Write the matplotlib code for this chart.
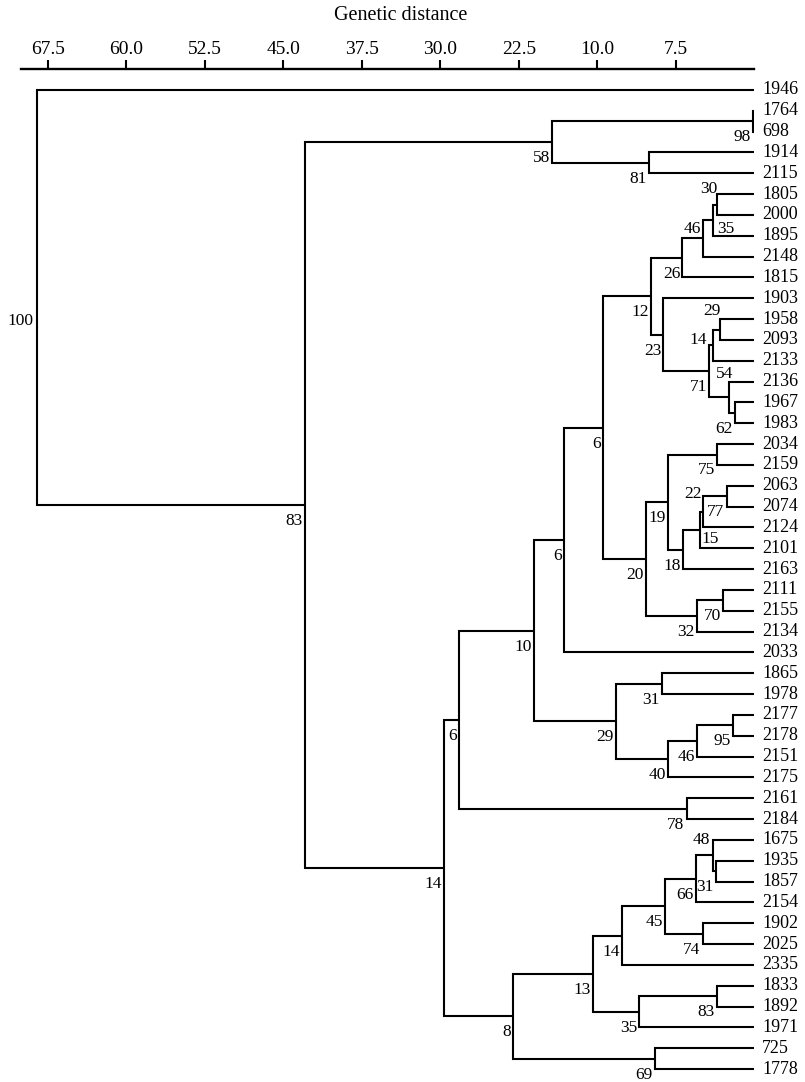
import matplotlib
matplotlib.use("Agg")
import matplotlib.pyplot as plt

# leaf order, top to bottom
leaves = ["1946", "1764", "698", "1914", "2115", "1805", "2000", "1895", "2148", "1815",
          "1903", "1958", "2093", "2133", "2136", "1967", "1983", "2034", "2159", "2063",
          "2074", "2124", "2101", "2163", "2111", "2155", "2134", "2033", "1865", "1978",
          "2177", "2178", "2151", "2175", "2161", "2184", "1675", "1935", "1857", "2154",
          "1902", "2025", "2335", "1833", "1892", "1971", "725", "1778"]

# internal nodes, children first (id, left child, right child, genetic distance, support)
node_ids = ["n98", "n81", "n58", "n30", "n35", "n46", "n26", "n29a", "n14a", "n62",
            "n54", "n71", "n23", "n12", "n75", "n77", "n22", "n15", "n18", "n19",
            "n70", "n32", "n20", "n6a", "n6b", "n31a", "n95", "n46b", "n40", "n29b",
            "n10", "n78", "n6c", "n31b", "n48", "n66", "n74", "n45", "n14b", "n83b",
            "n35b", "n13", "n69", "n8", "n14c", "n83", "n100"]
left = ["1764", "1914", "n98", "1805", "n30", "n35", "n46", "1958", "n29a", "1967",
        "2136", "n14a", "1903", "n26", "2034", "2063", "n77", "n22", "n15", "n75",
        "2111", "n70", "n19", "n12", "n6a", "1865", "2177", "n95", "n46b", "n31a",
        "n6b", "2161", "n10", "1935", "1675", "n48", "1902", "n66", "n45", "1833",
        "n83b", "n14b", "725", "n13", "n6c", "n58", "1946"]
right = ["698", "2115", "n81", "2000", "1895", "2148", "1815", "2093", "2133", "1983",
         "n62", "n54", "n71", "n23", "2159", "2074", "2124", "2101", "2163", "n18",
         "2155", "2134", "n32", "n20", "2033", "1978", "2178", "2151", "2175", "n40",
         "n29b", "2184", "n78", "1857", "n31b", "2154", "2025", "n74", "2335", "1892",
         "1971", "n35b", "1778", "n69", "n8", "n14c", "n83"]
dist = [0.15, 10.02, 19.29, 3.53, 3.91, 4.86, 6.87, 3.24, 3.91, 1.83,
        2.38, 4.32, 8.68, 9.86, 3.58, 2.63, 4.86, 5.18, 6.85, 8.21,
        2.95, 5.49, 10.34, 14.49, 18.14, 8.84, 2.05, 5.49, 8.21, 13.23,
        21.01, 6.45, 28.20, 3.65, 3.91, 5.56, 4.92, 8.52, 12.66, 3.58,
        10.98, 15.37, 9.48, 23.02, 29.61, 42.92, 68.55]
support = [98, 81, 58, 30, 35, 46, 26, 29, 14, 62,
           54, 71, 23, 12, 75, 77, 22, 15, 18, 19,
           70, 32, 20, 6, 6, 31, 95, 46, 40, 29,
           10, 78, 6, 31, 48, 66, 74, 45, 14, 83,
           35, 13, 69, 8, 14, 83, 100]

tick_vals = [67.5, 60.0, 52.5, 45.0, 37.5, 30.0, 22.5, 15.0, 7.5]
tick_labels = ["67.5", "60.0", "52.5", "45.0", "37.5", "30.0", "22.5", "10.0", "7.5"]

# where the support numbers sit relative to their node (points), default is below-left
label_off = {"n30": (0, 11.5, "right"), "n46": (-2, 6.5, "right"), "n29a": (0, 13, "right"),
             "n22": (-1, 13, "right"), "n48": (-2, 11.5, "right"), "n54": (-3.3, 17, "center"),
             "n14a": (-4.3, 3.6, "right"), "n35": (2.5, -6.5, "left"), "n15": (1.2, -6.5, "left"),
             "n100": (-2, -17, "right")}

plt.rcParams["font.family"] = ["Liberation Serif", "DejaVu Serif"]

fig = plt.figure(figsize=(8.05, 10.82), dpi=100)
W, H = 805.0, 1082.0
x_left, x_zero, y_axis = 20.7, 754.2, 69.3
ax = fig.add_axes([x_left / W, 0, (x_zero - x_left) / W, (H - y_axis) / H])
step = 20.83
ax.set_xlim((x_zero - x_left) * 7.5 / 78.5, 0)
ax.set_ylim(47 + (H - 1069) / step, -(90 - y_axis) / step)

ypos = {}
hpos = {}
for i, name in enumerate(leaves):
    ypos[name] = i
    hpos[name] = 0.0
    ax.annotate(name, (0, i), xytext=(5.8, 0), textcoords="offset points",
                ha="left", va="center", fontsize=13, annotation_clip=False)

for nid, a, b, h, s in zip(node_ids, left, right, dist, support):
    ya, yb = ypos[a], ypos[b]
    ypos[nid] = (ya + yb) / 2.0
    hpos[nid] = h
    ax.plot([hpos[a], h, h, hpos[b]], [ya, ya, yb, yb], color="black", lw=1.5,
            solid_capstyle="butt", solid_joinstyle="miter")
    dx, dy, ha = label_off.get(nid, (-1.5, -11.5, "right"))
    ax.annotate(str(s), (h, ypos[nid]), xytext=(dx, dy), textcoords="offset points",
                ha=ha, va="center", fontsize=12.5, annotation_clip=False)

for sp in ["right", "bottom", "left"]:
    ax.spines[sp].set_visible(False)
ax.spines["top"].set_linewidth(1.7)
ax.set_yticks([])
ax.xaxis.tick_top()
ax.set_xticks(tick_vals)
ax.set_xticklabels(tick_labels)
ax.tick_params(axis="x", direction="out", length=6.5, width=1.5, pad=1.5, labelsize=14)

fig.text(401 / W, 1 - 15 / H, "Genetic distance", ha="center", va="center", fontsize=14.5)

fig.savefig("out.png", dpi=100)
